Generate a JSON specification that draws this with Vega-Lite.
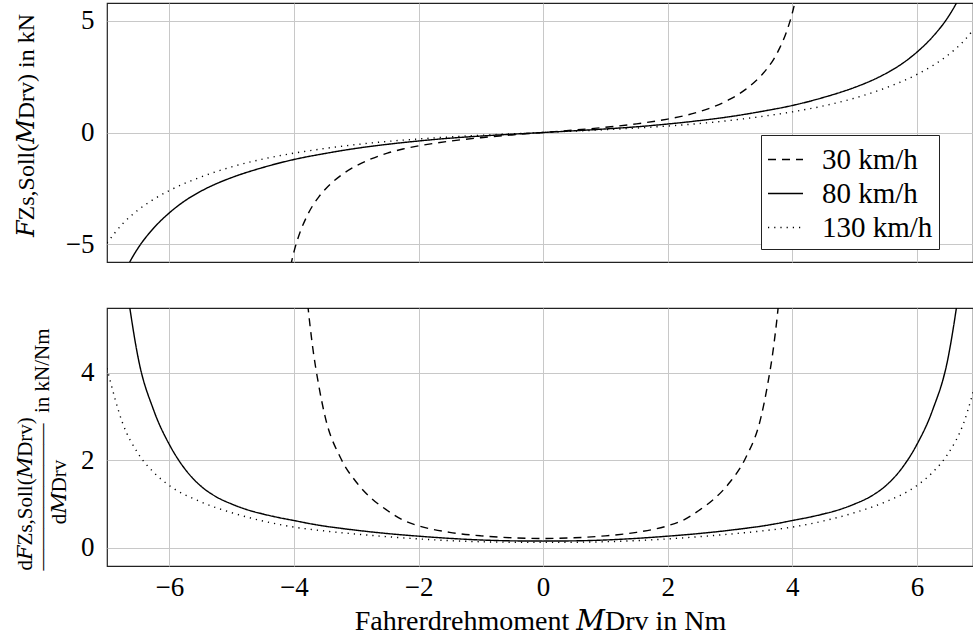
{
  "$schema": "https://vega.github.io/schema/vega-lite/v6.json",
  "background": "white",
  "padding": {"left": 13, "top": 2, "right": 1, "bottom": 0},
  "config": {
    "font": "Liberation Serif, DejaVu Serif, serif",
    "view": {"stroke": "#222222", "strokeWidth": 1.2},
    "axis": {
      "grid": true, "gridColor": "#c8c8c8", "gridWidth": 1,
      "domain": false, "ticks": false, "tickSize": 0,
      "labelFont": "Liberation Serif, DejaVu Serif, serif", "labelFontSize": 27, "labelColor": "black",
      "titleFont": "Liberation Serif, DejaVu Serif, serif", "titleFontWeight": "normal", "titleColor": "black"
    }
  },
  "datasets": {
    "F": [
      {"M":-4.1,"v":-6.6,"s":"30 km/h"},{"M":-4.0,"v":-5.35,"s":"30 km/h"},{"M":-3.9,"v":-4.46,"s":"30 km/h"},{"M":-3.8,"v":-3.8,"s":"30 km/h"},{"M":-3.7,"v":-3.28,"s":"30 km/h"},{"M":-3.6,"v":-2.88,"s":"30 km/h"},{"M":-3.5,"v":-2.55,"s":"30 km/h"},{"M":-3.25,"v":-1.93,"s":"30 km/h"},{"M":-3.0,"v":-1.49,"s":"30 km/h"},{"M":-2.75,"v":-1.17,"s":"30 km/h"},{"M":-2.5,"v":-0.925,"s":"30 km/h"},{"M":-2.25,"v":-0.74,"s":"30 km/h"},{"M":-2.0,"v":-0.6,"s":"30 km/h"},{"M":-1.5,"v":-0.388,"s":"30 km/h"},{"M":-1.0,"v":-0.233,"s":"30 km/h"},{"M":-0.5,"v":-0.109,"s":"30 km/h"},{"M":0,"v":0,"s":"30 km/h"},
      {"M":0.5,"v":0.109,"s":"30 km/h"},{"M":1.0,"v":0.233,"s":"30 km/h"},{"M":1.5,"v":0.388,"s":"30 km/h"},{"M":2.0,"v":0.6,"s":"30 km/h"},{"M":2.25,"v":0.74,"s":"30 km/h"},{"M":2.5,"v":0.925,"s":"30 km/h"},{"M":2.75,"v":1.17,"s":"30 km/h"},{"M":3.0,"v":1.49,"s":"30 km/h"},{"M":3.25,"v":1.93,"s":"30 km/h"},{"M":3.5,"v":2.55,"s":"30 km/h"},{"M":3.6,"v":2.88,"s":"30 km/h"},{"M":3.7,"v":3.28,"s":"30 km/h"},{"M":3.8,"v":3.8,"s":"30 km/h"},{"M":3.9,"v":4.46,"s":"30 km/h"},{"M":4.0,"v":5.35,"s":"30 km/h"},{"M":4.1,"v":6.6,"s":"30 km/h"},
      {"M":-7,"v":-8.6,"s":"80 km/h"},{"M":-6.875,"v":-7.4,"s":"80 km/h"},{"M":-6.75,"v":-6.45,"s":"80 km/h"},{"M":-6.625,"v":-5.75,"s":"80 km/h"},{"M":-6.5,"v":-5.17,"s":"80 km/h"},{"M":-6.25,"v":-4.28,"s":"80 km/h"},{"M":-6,"v":-3.6,"s":"80 km/h"},{"M":-5.75,"v":-3.06,"s":"80 km/h"},{"M":-5.5,"v":-2.64,"s":"80 km/h"},{"M":-5.25,"v":-2.3,"s":"80 km/h"},{"M":-5,"v":-2.02,"s":"80 km/h"},{"M":-4.5,"v":-1.57,"s":"80 km/h"},{"M":-4,"v":-1.21,"s":"80 km/h"},{"M":-3.5,"v":-0.94,"s":"80 km/h"},{"M":-3,"v":-0.71,"s":"80 km/h"},{"M":-2.5,"v":-0.53,"s":"80 km/h"},{"M":-2,"v":-0.38,"s":"80 km/h"},{"M":-1.5,"v":-0.256,"s":"80 km/h"},{"M":-1,"v":-0.159,"s":"80 km/h"},{"M":-0.5,"v":-0.076,"s":"80 km/h"},{"M":0,"v":0,"s":"80 km/h"},
      {"M":0.5,"v":0.076,"s":"80 km/h"},{"M":1,"v":0.159,"s":"80 km/h"},{"M":1.5,"v":0.256,"s":"80 km/h"},{"M":2,"v":0.38,"s":"80 km/h"},{"M":2.5,"v":0.53,"s":"80 km/h"},{"M":3,"v":0.71,"s":"80 km/h"},{"M":3.5,"v":0.94,"s":"80 km/h"},{"M":4,"v":1.21,"s":"80 km/h"},{"M":4.5,"v":1.57,"s":"80 km/h"},{"M":5,"v":2.02,"s":"80 km/h"},{"M":5.25,"v":2.3,"s":"80 km/h"},{"M":5.5,"v":2.64,"s":"80 km/h"},{"M":5.75,"v":3.06,"s":"80 km/h"},{"M":6,"v":3.6,"s":"80 km/h"},{"M":6.25,"v":4.28,"s":"80 km/h"},{"M":6.5,"v":5.17,"s":"80 km/h"},{"M":6.625,"v":5.75,"s":"80 km/h"},{"M":6.75,"v":6.45,"s":"80 km/h"},{"M":6.875,"v":7.4,"s":"80 km/h"},{"M":7,"v":8.6,"s":"80 km/h"},
      {"M":-7,"v":-4.95,"s":"130 km/h"},{"M":-6.75,"v":-4.09,"s":"130 km/h"},{"M":-6.5,"v":-3.47,"s":"130 km/h"},{"M":-6.25,"v":-2.99,"s":"130 km/h"},{"M":-6,"v":-2.6,"s":"130 km/h"},{"M":-5.5,"v":-2.0,"s":"130 km/h"},{"M":-5,"v":-1.54,"s":"130 km/h"},{"M":-4.5,"v":-1.19,"s":"130 km/h"},{"M":-4,"v":-0.925,"s":"130 km/h"},{"M":-3.5,"v":-0.715,"s":"130 km/h"},{"M":-3,"v":-0.54,"s":"130 km/h"},{"M":-2.5,"v":-0.4,"s":"130 km/h"},{"M":-2,"v":-0.29,"s":"130 km/h"},{"M":-1.5,"v":-0.2,"s":"130 km/h"},{"M":-1,"v":-0.125,"s":"130 km/h"},{"M":-0.5,"v":-0.061,"s":"130 km/h"},{"M":0,"v":0,"s":"130 km/h"},
      {"M":0.5,"v":0.061,"s":"130 km/h"},{"M":1,"v":0.125,"s":"130 km/h"},{"M":1.5,"v":0.2,"s":"130 km/h"},{"M":2,"v":0.29,"s":"130 km/h"},{"M":2.5,"v":0.4,"s":"130 km/h"},{"M":3,"v":0.54,"s":"130 km/h"},{"M":3.5,"v":0.715,"s":"130 km/h"},{"M":4,"v":0.925,"s":"130 km/h"},{"M":4.5,"v":1.19,"s":"130 km/h"},{"M":5,"v":1.54,"s":"130 km/h"},{"M":5.5,"v":2.0,"s":"130 km/h"},{"M":6,"v":2.6,"s":"130 km/h"},{"M":6.25,"v":2.99,"s":"130 km/h"},{"M":6.5,"v":3.47,"s":"130 km/h"},{"M":6.75,"v":4.09,"s":"130 km/h"},{"M":7,"v":4.95,"s":"130 km/h"}
    ],
    "D": [
      {"M":-3.9,"v":7.8,"s":"30 km/h"},{"M":-3.8,"v":5.9,"s":"30 km/h"},{"M":-3.7,"v":4.6,"s":"30 km/h"},{"M":-3.6,"v":3.7,"s":"30 km/h"},{"M":-3.5,"v":3.0,"s":"30 km/h"},{"M":-3.25,"v":2.05,"s":"30 km/h"},{"M":-3.0,"v":1.5,"s":"30 km/h"},{"M":-2.75,"v":1.12,"s":"30 km/h"},{"M":-2.5,"v":0.85,"s":"30 km/h"},{"M":-2.25,"v":0.63,"s":"30 km/h"},{"M":-2.0,"v":0.5,"s":"30 km/h"},{"M":-1.5,"v":0.35,"s":"30 km/h"},{"M":-1.0,"v":0.27,"s":"30 km/h"},{"M":-0.5,"v":0.225,"s":"30 km/h"},{"M":0,"v":0.21,"s":"30 km/h"},
      {"M":0.5,"v":0.225,"s":"30 km/h"},{"M":1.0,"v":0.27,"s":"30 km/h"},{"M":1.5,"v":0.35,"s":"30 km/h"},{"M":2.0,"v":0.5,"s":"30 km/h"},{"M":2.25,"v":0.63,"s":"30 km/h"},{"M":2.5,"v":0.85,"s":"30 km/h"},{"M":2.75,"v":1.12,"s":"30 km/h"},{"M":3.0,"v":1.5,"s":"30 km/h"},{"M":3.25,"v":2.05,"s":"30 km/h"},{"M":3.5,"v":3.0,"s":"30 km/h"},{"M":3.6,"v":3.7,"s":"30 km/h"},{"M":3.7,"v":4.6,"s":"30 km/h"},{"M":3.8,"v":5.9,"s":"30 km/h"},{"M":3.9,"v":7.8,"s":"30 km/h"},
      {"M":-7,"v":12.2,"s":"80 km/h"},{"M":-6.875,"v":9.05,"s":"80 km/h"},{"M":-6.75,"v":6.7,"s":"80 km/h"},{"M":-6.625,"v":5.4,"s":"80 km/h"},{"M":-6.5,"v":4.34,"s":"80 km/h"},{"M":-6.25,"v":3.14,"s":"80 km/h"},{"M":-6,"v":2.36,"s":"80 km/h"},{"M":-5.75,"v":1.8,"s":"80 km/h"},{"M":-5.5,"v":1.416,"s":"80 km/h"},{"M":-5.25,"v":1.165,"s":"80 km/h"},{"M":-5,"v":0.998,"s":"80 km/h"},{"M":-4.75,"v":0.867,"s":"80 km/h"},{"M":-4.5,"v":0.77,"s":"80 km/h"},{"M":-4.25,"v":0.689,"s":"80 km/h"},{"M":-4,"v":0.62,"s":"80 km/h"},{"M":-3.75,"v":0.55,"s":"80 km/h"},{"M":-3.5,"v":0.49,"s":"80 km/h"},{"M":-3.25,"v":0.442,"s":"80 km/h"},{"M":-3,"v":0.398,"s":"80 km/h"},{"M":-2.5,"v":0.322,"s":"80 km/h"},{"M":-2,"v":0.262,"s":"80 km/h"},{"M":-1.5,"v":0.212,"s":"80 km/h"},{"M":-1,"v":0.175,"s":"80 km/h"},{"M":-0.5,"v":0.155,"s":"80 km/h"},{"M":0,"v":0.15,"s":"80 km/h"},
      {"M":0.5,"v":0.155,"s":"80 km/h"},{"M":1,"v":0.175,"s":"80 km/h"},{"M":1.5,"v":0.212,"s":"80 km/h"},{"M":2,"v":0.262,"s":"80 km/h"},{"M":2.5,"v":0.322,"s":"80 km/h"},{"M":3,"v":0.398,"s":"80 km/h"},{"M":3.25,"v":0.442,"s":"80 km/h"},{"M":3.5,"v":0.49,"s":"80 km/h"},{"M":3.75,"v":0.55,"s":"80 km/h"},{"M":4,"v":0.62,"s":"80 km/h"},{"M":4.25,"v":0.689,"s":"80 km/h"},{"M":4.5,"v":0.77,"s":"80 km/h"},{"M":4.75,"v":0.867,"s":"80 km/h"},{"M":5,"v":0.998,"s":"80 km/h"},{"M":5.25,"v":1.165,"s":"80 km/h"},{"M":5.5,"v":1.416,"s":"80 km/h"},{"M":5.75,"v":1.8,"s":"80 km/h"},{"M":6,"v":2.36,"s":"80 km/h"},{"M":6.25,"v":3.14,"s":"80 km/h"},{"M":6.5,"v":4.34,"s":"80 km/h"},{"M":6.625,"v":5.4,"s":"80 km/h"},{"M":6.75,"v":6.7,"s":"80 km/h"},{"M":6.875,"v":9.05,"s":"80 km/h"},{"M":7,"v":12.2,"s":"80 km/h"},
      {"M":-7,"v":4.1,"s":"130 km/h"},{"M":-6.75,"v":2.85,"s":"130 km/h"},{"M":-6.5,"v":2.15,"s":"130 km/h"},{"M":-6.25,"v":1.72,"s":"130 km/h"},{"M":-6,"v":1.42,"s":"130 km/h"},{"M":-5.5,"v":1.05,"s":"130 km/h"},{"M":-5,"v":0.8,"s":"130 km/h"},{"M":-4.5,"v":0.61,"s":"130 km/h"},{"M":-4,"v":0.47,"s":"130 km/h"},{"M":-3.5,"v":0.38,"s":"130 km/h"},{"M":-3,"v":0.31,"s":"130 km/h"},{"M":-2.5,"v":0.25,"s":"130 km/h"},{"M":-2,"v":0.2,"s":"130 km/h"},{"M":-1.5,"v":0.16,"s":"130 km/h"},{"M":-1,"v":0.135,"s":"130 km/h"},{"M":-0.5,"v":0.123,"s":"130 km/h"},{"M":0,"v":0.12,"s":"130 km/h"},
      {"M":0.5,"v":0.123,"s":"130 km/h"},{"M":1,"v":0.135,"s":"130 km/h"},{"M":1.5,"v":0.16,"s":"130 km/h"},{"M":2,"v":0.2,"s":"130 km/h"},{"M":2.5,"v":0.25,"s":"130 km/h"},{"M":3,"v":0.31,"s":"130 km/h"},{"M":3.5,"v":0.38,"s":"130 km/h"},{"M":4,"v":0.47,"s":"130 km/h"},{"M":4.5,"v":0.61,"s":"130 km/h"},{"M":5,"v":0.8,"s":"130 km/h"},{"M":5.5,"v":1.05,"s":"130 km/h"},{"M":6,"v":1.42,"s":"130 km/h"},{"M":6.25,"v":1.72,"s":"130 km/h"},{"M":6.5,"v":2.15,"s":"130 km/h"},{"M":6.75,"v":2.85,"s":"130 km/h"},{"M":7,"v":4.1,"s":"130 km/h"}
    ]
  },
  "spacing": 44,
  "resolve": {"legend": {"strokeDash": "independent"}},
  "vconcat": [
    {
      "width": 866, "height": 259,
      "data": {"name": "F"},
      "mark": {"type": "line", "clip": true, "interpolate": "monotone", "color": "black", "strokeWidth": 1.4},
      "encoding": {
        "x": {"field": "M", "type": "quantitative",
              "scale": {"domain": [-7, 6.9], "nice": false, "zero": false},
              "axis": {"values": [-6, -4, -2, 0, 2, 4, 6], "labels": false, "title": null}},
        "y": {"field": "v", "type": "quantitative",
              "scale": {"domain": [-5.8, 5.8], "nice": false},
              "axis": {"values": [-5, 0, 5], "labelPadding": 13,
                       "title": "𝐹Zs,Soll(𝑀Drv) in kN", "titleFontSize": 24,
                       "titleAngle": -90, "titleAlign": "center", "titleBaseline": "top",
                       "titleX": -93, "titleY": 122}},
        "strokeDash": {"field": "s", "type": "nominal",
                       "scale": {"domain": ["30 km/h", "80 km/h", "130 km/h"], "range": [[8, 6], [1, 0], [1.2, 5]]},
                       "legend": {"orient": "none", "legendX": 654, "legendY": 132, "title": null,
                                  "symbolType": "stroke", "symbolSize": 1225, "symbolStrokeWidth": 1.4,
                                  "symbolStrokeColor": "black", "labelFontSize": 29,
                                  "labelFont": "Liberation Serif, DejaVu Serif, serif",
                                  "labelColor": "black", "labelOffset": 18, "rowPadding": 0, "padding": 6,
                                  "strokeColor": "#222222", "fillColor": "white", "cornerRadius": 0}}
      }
    },
    {
      "width": 866, "height": 258,
      "data": {"name": "D"},
      "mark": {"type": "line", "clip": true, "interpolate": "monotone", "color": "black", "strokeWidth": 1.4},
      "encoding": {
        "x": {"field": "M", "type": "quantitative",
              "scale": {"domain": [-7, 6.9], "nice": false, "zero": false},
              "axis": {"values": [-6, -4, -2, 0, 2, 4, 6], "labelPadding": 8,
                       "title": "Fahrerdrehmoment 𝑀Drv in Nm", "titleFontSize": 28,
                       "titleBaseline": "alphabetic", "titleY": 63}},
        "y": {"field": "v", "type": "quantitative",
              "scale": {"domain": [-0.42, 5.48], "nice": false},
              "axis": {"values": [0, 2, 4], "labelPadding": 13,
                       "title": ["d𝐹Zs,Soll(𝑀Drv)", "———————\u2002in kN/Nm", "\u2800\u2800\u2800d𝑀Drv"],
                       "titleFontSize": 21, "titleLineHeight": 17,
                       "titleAngle": -90, "titleAlign": "left", "titleBaseline": "top",
                       "titleX": -93, "titleY": 262}},
        "strokeDash": {"field": "s", "type": "nominal",
                       "scale": {"domain": ["30 km/h", "80 km/h", "130 km/h"], "range": [[8, 6], [1, 0], [1.2, 5]]},
                       "legend": null}
      }
    }
  ]
}
